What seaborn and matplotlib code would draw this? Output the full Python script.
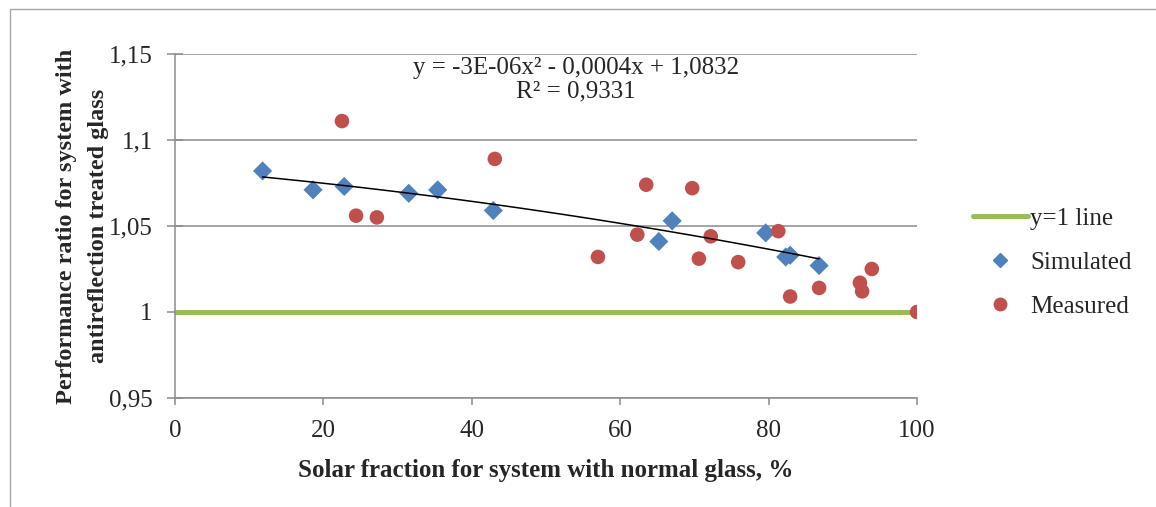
"""Performance ratio vs solar fraction (simulated / measured)."""

import matplotlib
matplotlib.use("Agg")
import matplotlib.pyplot as plt
import numpy as np
import pandas as pd
import seaborn as sns
from matplotlib.lines import Line2D
from matplotlib.patches import Rectangle
from matplotlib.ticker import FuncFormatter, MultipleLocator


# simulated points (diamonds)
sim_x = [11.8, 18.6, 22.8, 31.5, 35.4, 42.9, 65.2, 67.0, 79.6, 82.3, 82.9, 86.8]
sim_y = [1.082, 1.071, 1.073, 1.069, 1.071, 1.059, 1.041, 1.053, 1.046, 1.032, 1.033, 1.027]

# measured points (circles)
meas_x = [22.5, 24.4, 27.2, 43.1, 57.0, 62.3, 63.5, 69.7, 70.6, 72.2,
          75.9, 81.3, 82.9, 86.8, 92.3, 92.6, 93.9, 100.0]
meas_y = [1.111, 1.056, 1.055, 1.089, 1.032, 1.045, 1.074, 1.072, 1.031, 1.044,
          1.029, 1.047, 1.009, 1.014, 1.017, 1.012, 1.025, 1.000]

# reference line y = 1
ref_x = [0, 100]
ref_y = [1.0, 1.0]

eq_text = "y = -3E-06x² - 0,0004x + 1,0832\nR² = 0,9331"

BLUE = "#4F81BD"
RED = "#C0504D"
GREEN = "#9BBB59"
GRID = "#8C8C8C"

sns.set_style("white")
plt.rcParams["font.family"] = ["Liberation Serif", "DejaVu Serif"]

fig = plt.figure(figsize=(11.56, 5.07), dpi=100)
ax = fig.add_axes([0.1514, 0.215, 0.6419, 0.6785])

sim = pd.DataFrame({"x": sim_x, "y": sim_y})
meas = pd.DataFrame({"x": meas_x, "y": meas_y})
ref = pd.DataFrame({"x": ref_x, "y": ref_y})

sns.lineplot(data=ref, x="x", y="y", color=GREEN, linewidth=3.6, ax=ax,
             zorder=2, legend=False)
sns.regplot(data=sim, x="x", y="y", order=2, scatter=False, ci=None,
            truncate=True, color="black", line_kws={"linewidth": 1.1, "zorder": 4},
            ax=ax)
sns.scatterplot(data=sim, x="x", y="y", marker="D", s=95, color=BLUE,
                edgecolor="none", ax=ax, zorder=3)
sns.scatterplot(data=meas, x="x", y="y", marker="o", s=110, color=RED,
                edgecolor="none", ax=ax, zorder=3)

ax.set_xlim(0, 100)
ax.set_ylim(0.95, 1.15)
ax.xaxis.set_major_locator(MultipleLocator(20))
ax.yaxis.set_major_locator(MultipleLocator(0.05))
ax.yaxis.set_major_formatter(FuncFormatter(lambda v, p: f"{v:g}".replace(".", ",")))

ax.grid(axis="y", color=GRID, linewidth=1.1)
ax.grid(axis="x", visible=False)
ax.set_axisbelow(True)
for side in ("top", "right"):
    ax.spines[side].set_visible(False)
for side in ("left", "bottom"):
    ax.spines[side].set_color(GRID)
    ax.spines[side].set_linewidth(1.1)

ax.tick_params(axis="y", direction="inout", length=12, width=1.1, color=GRID,
               labelsize=18, pad=10, left=True)
ax.tick_params(axis="x", direction="out", length=5, width=1.1, color=GRID,
               labelsize=18, pad=11, bottom=True)

ax.set_xlabel("Solar fraction for system with normal glass, %",
              fontsize=18, fontweight="bold", labelpad=12)
ax.set_ylabel("Performance ratio for system with\nantireflection treated glass",
              fontsize=17.5, fontweight="bold", labelpad=0, linespacing=1.7)

ax.text(0.54, 0.99, eq_text, transform=ax.transAxes, ha="center", va="top",
        fontsize=18, linespacing=1.05, zorder=5)

handles = [
    Line2D([0], [0], color=GREEN, linewidth=3.6),
    Line2D([0], [0], marker="D", linestyle="none", color=BLUE, markersize=7.5),
    Line2D([0], [0], marker="o", linestyle="none", color=RED, markersize=9),
]
fig.legend(handles, ["y=1 line", "Simulated", "Measured"],
           loc="center left", bbox_to_anchor=(0.822, 0.482), frameon=False,
           fontsize=18, handlelength=2.2, handletextpad=0.1, labelspacing=0.85)

# outer chart frame
fig.patches.append(Rectangle((10 / 1156, -0.01), 1.02, 1 - 9 / 507 + 0.01,
                             transform=fig.transFigure, fill=False,
                             edgecolor="#A6A6A6", linewidth=1.0))

fig.savefig("out.png", dpi=100)
